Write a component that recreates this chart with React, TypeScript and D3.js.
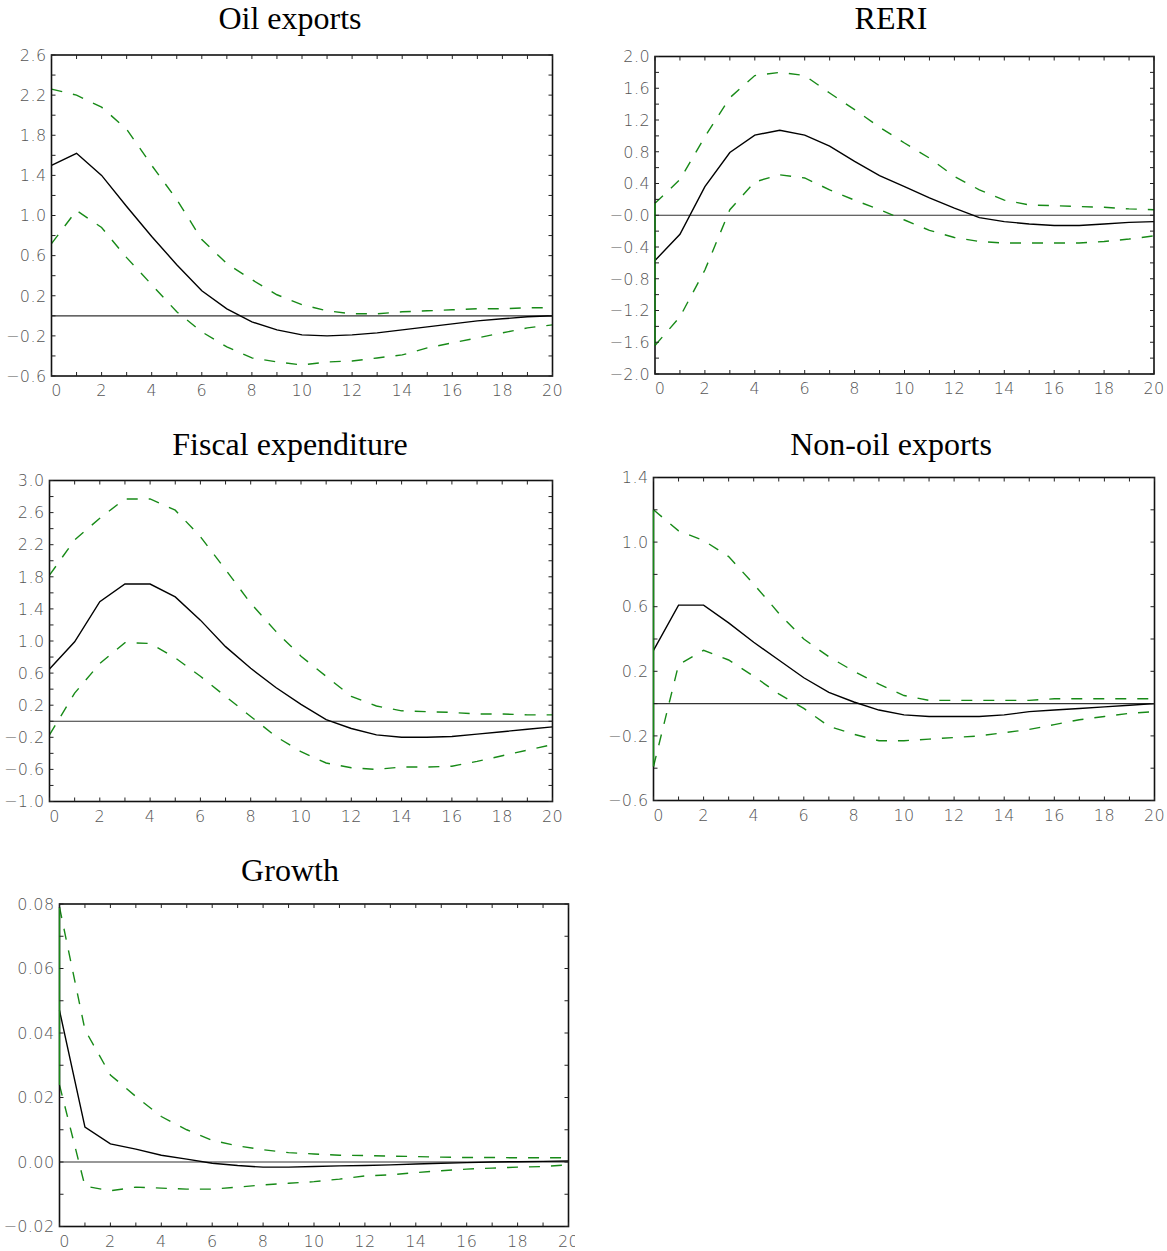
import React from 'react';
import * as d3 from 'd3';

// Impulse responses, horizon 0..20 — point estimate plus upper/lower bands.
const horizon = d3.range(0, 21);

const oilMean = [1.50, 1.62, 1.40, 1.09, 0.79, 0.51, 0.25, 0.07, -0.06, -0.14, -0.19, -0.20, -0.19, -0.17, -0.14, -0.11, -0.08, -0.05, -0.03, -0.01, 0.0];
const oilUpper = [2.26, 2.20, 2.08, 1.86, 1.50, 1.16, 0.76, 0.52, 0.36, 0.21, 0.11, 0.05, 0.02, 0.02, 0.04, 0.05, 0.06, 0.07, 0.07, 0.08, 0.08];
const oilLower = [0.72, 1.05, 0.88, 0.58, 0.31, 0.04, -0.16, -0.31, -0.42, -0.46, -0.49, -0.46, -0.45, -0.42, -0.39, -0.32, -0.27, -0.22, -0.17, -0.12, -0.09];
const oilLabels = ['2.6', '2.2', '1.8', '1.4', '1.0', '0.6', '0.2', '\u22120.2', '\u22120.6'];

const reriMean = [-0.57, -0.24, 0.36, 0.79, 1.01, 1.07, 1.01, 0.87, 0.68, 0.50, 0.36, 0.22, 0.09, -0.03, -0.08, -0.11, -0.13, -0.13, -0.11, -0.09, -0.08];
const reriUpper = [0.15, 0.45, 0.99, 1.48, 1.76, 1.80, 1.76, 1.54, 1.33, 1.11, 0.91, 0.72, 0.49, 0.32, 0.19, 0.13, 0.12, 0.11, 0.10, 0.08, 0.07];
const reriLower = [-1.64, -1.28, -0.69, 0.07, 0.42, 0.51, 0.47, 0.32, 0.19, 0.07, -0.06, -0.19, -0.28, -0.33, -0.35, -0.35, -0.35, -0.35, -0.33, -0.30, -0.26];
const reriLabels = ['2.0', '1.6', '1.2', '0.8', '0.4', '\u22120.0', '\u22120.4', '\u22120.8', '\u22121.2', '\u22121.6', '\u22122.0'];

const fiscMean = [0.65, 0.99, 1.49, 1.71, 1.71, 1.55, 1.26, 0.93, 0.66, 0.42, 0.21, 0.02, -0.09, -0.17, -0.20, -0.20, -0.19, -0.16, -0.13, -0.10, -0.07];
const fiscUpper = [1.82, 2.26, 2.53, 2.77, 2.77, 2.63, 2.30, 1.89, 1.47, 1.12, 0.81, 0.56, 0.31, 0.19, 0.13, 0.12, 0.11, 0.09, 0.09, 0.08, 0.08];
const fiscLower = [-0.17, 0.35, 0.72, 0.98, 0.97, 0.79, 0.56, 0.31, 0.06, -0.19, -0.38, -0.52, -0.58, -0.60, -0.57, -0.57, -0.56, -0.50, -0.43, -0.36, -0.29];
const fiscLabels = ['3.0', '2.6', '2.2', '1.8', '1.4', '1.0', '0.6', '0.2', '\u22120.2', '\u22120.6', '\u22121.0'];

const nonOilMean = [0.33, 0.61, 0.61, 0.50, 0.38, 0.27, 0.16, 0.07, 0.01, -0.04, -0.07, -0.08, -0.08, -0.08, -0.07, -0.05, -0.04, -0.03, -0.02, -0.01, 0.0];
const nonOilUpper = [1.20, 1.07, 1.01, 0.91, 0.74, 0.56, 0.40, 0.29, 0.20, 0.12, 0.05, 0.02, 0.02, 0.02, 0.02, 0.02, 0.03, 0.03, 0.03, 0.03, 0.03];
const nonOilLower = [-0.39, 0.24, 0.33, 0.27, 0.17, 0.06, -0.03, -0.14, -0.19, -0.23, -0.23, -0.22, -0.21, -0.20, -0.18, -0.16, -0.13, -0.10, -0.08, -0.06, -0.05];
const nonOilLabels = ['1.4', '1.0', '0.6', '0.2', '\u22120.2', '\u22120.6'];

const growthMean = [0.047, 0.0108, 0.0056, 0.004, 0.0021, 0.0009, -0.0004, -0.0011, -0.0016, -0.0016, -0.0014, -0.0012, -0.0011, -0.0009, -0.0006, -0.0004, -0.0002, 0.0, 0.0001, 0.0002, 0.0003];
const growthUpper = [0.079, 0.041, 0.027, 0.0203, 0.0141, 0.010, 0.0067, 0.005, 0.0038, 0.0029, 0.0025, 0.0021, 0.002, 0.0018, 0.0017, 0.0015, 0.0014, 0.0014, 0.0013, 0.0013, 0.0013];
const growthLower = [0.0239, -0.0075, -0.0089, -0.0078, -0.0081, -0.0084, -0.0084, -0.0078, -0.0071, -0.0066, -0.0061, -0.0053, -0.0043, -0.004, -0.0033, -0.0027, -0.0022, -0.0019, -0.0016, -0.0014, -0.0009];
const growthLabels = ['0.08', '0.06', '0.04', '0.02', '0.00', '\u22120.02'];

const xLabels = ['0', '2', '4', '6', '8', '10', '12', '14', '16', '18', '20'];

const GREEN = '#178a17';
const TICK_FONT = '"DejaVu Sans", sans-serif';

type Panel = {
  title: string;
  mean: number[];
  upper: number[];
  lower: number[];
  labels: string[];
  yMax: number;
  yMin: number;
  labelStep: number;
  minorStep: number;
  box: { left: number; right: number; top: number; bottom: number };
  titleX: number;
  titleY: number;
  edgeBar: boolean;
  clipRight?: number;
};

const panels: Panel[] = [
  { title: 'Oil exports', mean: oilMean, upper: oilUpper, lower: oilLower, labels: oilLabels,
    yMax: 2.6, yMin: -0.6, labelStep: 0.4, minorStep: 0.2,
    box: { left: 51.5, right: 552.5, top: 55, bottom: 376 }, titleX: 290, titleY: 29, edgeBar: false },
  { title: 'RERI', mean: reriMean, upper: reriUpper, lower: reriLower, labels: reriLabels,
    yMax: 2.0, yMin: -2.0, labelStep: 0.4, minorStep: 0.2,
    box: { left: 655, right: 1154, top: 56.5, bottom: 374 }, titleX: 891, titleY: 29, edgeBar: true },
  { title: 'Fiscal expenditure', mean: fiscMean, upper: fiscUpper, lower: fiscLower, labels: fiscLabels,
    yMax: 3.0, yMin: -1.0, labelStep: 0.4, minorStep: 0.2,
    box: { left: 49.5, right: 552.5, top: 480.5, bottom: 801.5 }, titleX: 290, titleY: 455, edgeBar: false },
  { title: 'Non-oil exports', mean: nonOilMean, upper: nonOilUpper, lower: nonOilLower, labels: nonOilLabels,
    yMax: 1.4, yMin: -0.6, labelStep: 0.4, minorStep: 0.2,
    box: { left: 653.5, right: 1154.5, top: 477.5, bottom: 800.5 }, titleX: 891, titleY: 455, edgeBar: true },
  { title: 'Growth', mean: growthMean, upper: growthUpper, lower: growthLower, labels: growthLabels,
    yMax: 0.08, yMin: -0.02, labelStep: 0.02, minorStep: 0.01,
    box: { left: 59.5, right: 568.5, top: 904, bottom: 1226.5 }, titleX: 290, titleY: 881, edgeBar: true, clipRight: 575 },
];

function IrfPanel({ p, idx }: { p: Panel; idx: number }) {
  const { left, right, top, bottom } = p.box;
  const x = d3.scaleLinear().domain([0, 20]).range([left, right]);
  const y = d3.scaleLinear().domain([p.yMin, p.yMax]).range([bottom, top]);
  const line = d3
    .line<number>()
    .x((_, i) => x(horizon[i]))
    .y((v) => y(v));

  const nMinor = Math.round((p.yMax - p.yMin) / p.minorStep);
  const minorTicks = d3.range(0, nMinor + 1).map((k) => p.yMin + k * p.minorStep);
  const labelVals = p.labels.map((_, k) => p.yMax - k * p.labelStep);
  const tl = 4;
  const clipId = `lbl-clip-${idx}`;

  return (
    <g>
      <text x={p.titleX} y={p.titleY} textAnchor="middle" fontFamily='"Liberation Serif", "Times New Roman", serif'
        fontSize={32} fill="#000">{p.title}</text>

      {/* zero reference */}
      <line x1={left} x2={right} y1={y(0)} y2={y(0)} stroke="#333" strokeWidth={1.2} />

      {/* bands */}
      <path d={line(p.upper) ?? ''} fill="none" stroke={GREEN} strokeWidth={1.4} strokeDasharray="11 11" />
      <path d={line(p.lower) ?? ''} fill="none" stroke={GREEN} strokeWidth={1.4} strokeDasharray="11 11" />
      <path d={line(p.mean) ?? ''} fill="none" stroke="#000" strokeWidth={1.4} />

      {/* frame */}
      <rect x={left} y={top} width={right - left} height={bottom - top} fill="none" stroke="#111" strokeWidth={1.6} />
      {p.edgeBar ? (
        <line x1={left} x2={left} y1={y(p.upper[0])} y2={y(p.lower[0])} stroke={GREEN} strokeWidth={1.4} />
      ) : null}

      {/* ticks, inward on all four sides */}
      {horizon.map((h) => (
        <g key={`xt${h}`} stroke="#222" strokeWidth={1}>
          <line x1={x(h)} x2={x(h)} y1={bottom} y2={bottom - tl} />
          <line x1={x(h)} x2={x(h)} y1={top} y2={top + tl} />
        </g>
      ))}
      {minorTicks.map((v, k) => (
        <g key={`yt${k}`} stroke="#222" strokeWidth={1}>
          <line x1={left} x2={left + tl} y1={y(v)} y2={y(v)} />
          <line x1={right} x2={right - tl} y1={y(v)} y2={y(v)} />
        </g>
      ))}

      {/* tick labels */}
      <g fontFamily={TICK_FONT} fontSize={16} fontWeight={200} fill="#555" letterSpacing={0.4}>
        {p.labels.map((s, k) => (
          <text key={`yl${k}`} x={left - 5} y={y(labelVals[k])} dy="0.36em" textAnchor="end">{s}</text>
        ))}
        {p.clipRight ? (
          <defs>
            <clipPath id={clipId}>
              <rect x={0} y={bottom} width={p.clipRight} height={40} />
            </clipPath>
          </defs>
        ) : null}
        <g clipPath={p.clipRight ? `url(#${clipId})` : undefined}>
          {xLabels.map((s) => (
            <text key={`xl${s}`} x={x(+s) + (s === '0' ? 5 : 0)} y={bottom + 20} textAnchor="middle">{s}</text>
          ))}
        </g>
      </g>
    </g>
  );
}

export default function App() {
  return (
    <svg width={1167} height={1251} style={{ position: 'absolute', left: 0, top: 0, background: '#fff' }}>
      <rect width={1167} height={1251} fill="#fff" />
      {panels.map((p, i) => (
        <IrfPanel key={p.title} p={p} idx={i} />
      ))}
    </svg>
  );
}
